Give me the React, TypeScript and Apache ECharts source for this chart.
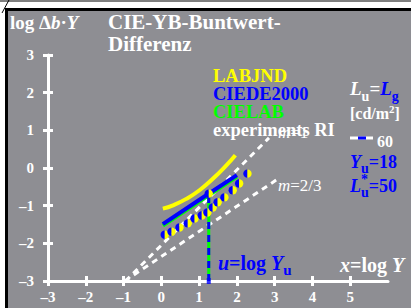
import React, { useEffect, useRef } from 'react';
import * as echarts from 'echarts';

// axis ticks
const xTicks = [-3, -2, -1, 0, 1, 2, 3, 4, 5];
const yTicks = [-3, -2, -1, 0, 1, 2, 3];

// LABJND (yellow)
const labjndX = [0.04, 0.31, 0.66, 1.01, 1.37, 1.72, 1.96];
const labjndY = [-1.08, -0.99, -0.82, -0.59, -0.28, 0.07, 0.34];
// CIEDE2000 (blue)
const de2000X = [0.04, 1.0, 2.0];
const de2000Y = [-1.49, -0.85, -0.19];
// CIELAB (green)
const cielabX = [0.04, 1.0, 2.0];
const cielabY = [-1.53, -0.89, -0.23];
// experiments RI
const expX = [0.09, 0.27, 0.48, 0.7, 0.88, 1.07, 1.22, 1.36, 1.49, 1.67, 1.89, 2.06, 2.28];
const expY = [-1.77, -1.69, -1.58, -1.47, -1.34, -1.26, -1.18, -1.05, -0.91, -0.78, -0.59, -0.41, -0.15];
// asymptotes
const m1X = [-0.95, 2.85];
const m1Y = [-3, 0.8];
const m23X = [-0.97, 3.1];
const m23Y = [-3, -0.28];
// u = log Yu
const uX = 1.255;
const uLineY = [-3, -0.68];

const SERIF = "'Liberation Serif', 'Times New Roman', serif";
const BLUE = '#0000ff';
const YELLOW = '#ffff00';
const GREEN = '#00ff00';
const WHITE = '#ffffff';
const GRAY = '#8e8e93';

const zip = (xs: number[], ys: number[]) => xs.map((x, i) => [x, ys[i]]);
const minus = (v: number) => (v < 0 ? '\u2013' + Math.abs(v) : String(v));

export default function App() {
  const ref = useRef<HTMLDivElement>(null);
  useEffect(() => {
    if (!ref.current) return;
    const chart = echarts.init(ref.current, undefined, { renderer: 'svg' });
    const big = (fill: string, italic = false, pb = 5, size = 19) => ({
      fill, fontFamily: SERIF, fontWeight: 'bold', fontStyle: italic ? 'italic' : 'normal',
      fontSize: size, verticalAlign: 'bottom', padding: [0, 0, pb, 0],
    });
    const sub = (fill: string, size = 14, pb = 0) => ({
      fill, fontFamily: SERIF, fontWeight: 'bold', fontSize: size, verticalAlign: 'bottom', padding: [0, 0, pb, 0],
    });
    const txt = (x: number, y: number, text: string, fill: string, size = 17, extra: any = {}) => ({
      type: 'text', x, y, z: 100,
      style: {
        text, fill, fontFamily: SERIF, fontWeight: 'bold', fontSize: size,
        textAlign: 'left', textVerticalAlign: 'middle', ...extra,
      },
    });
    const axisBase = {
      type: 'value',
      splitLine: { show: false },
    };
    const option: any = {
      animation: false,
      backgroundColor: GRAY,
      grid: { left: 48, right: 23, top: 55, bottom: 27, show: false },
      xAxis: [
        {
          ...axisBase, min: -3, max: 6, interval: 1,
          axisLine: { onZero: false, lineStyle: { color: WHITE, width: 3 } },
          axisTick: { customValues: xTicks, length: 5, lineStyle: { color: WHITE, width: 3 } },
          axisLabel: {
            customValues: xTicks, margin: 8, color: WHITE, fontFamily: SERIF, fontWeight: 'bold', fontSize: 15,
            formatter: (v: number) => minus(v),
          },
        },
        {
          ...axisBase, min: -3, max: 6, interval: 1, position: 'bottom',
          axisLine: { show: false, onZero: false },
          axisTick: { customValues: xTicks, inside: true, length: 5, lineStyle: { color: WHITE, width: 3 } },
          axisLabel: { show: false },
        },
      ],
      yAxis: [
        {
          ...axisBase, min: -3, max: 3, interval: 1,
          axisLine: { onZero: false, lineStyle: { color: WHITE, width: 3 } },
          axisTick: { customValues: yTicks, length: 5, lineStyle: { color: WHITE, width: 3 } },
          axisLabel: {
            customValues: yTicks, margin: 14, color: WHITE, fontFamily: SERIF, fontWeight: 'bold', fontSize: 15,
            formatter: (v: number) => minus(v),
          },
        },
        {
          ...axisBase, min: -3, max: 3, interval: 1, position: 'left',
          axisLine: { show: false, onZero: false },
          axisTick: { customValues: yTicks, inside: true, length: 5, lineStyle: { color: WHITE, width: 3 } },
          axisLabel: { show: false },
        },
      ],
      series: [
        {
          type: 'line', data: zip(m1X, m1Y), symbol: 'none',
          lineStyle: { color: WHITE, width: 3, type: [6, 5] }, z: 3,
        },
        {
          type: 'line', data: zip(m23X, m23Y), symbol: 'none',
          lineStyle: { color: WHITE, width: 3, type: [6, 5] }, z: 3,
        },
        {
          type: 'line', data: zip(labjndX, labjndY), symbol: 'none', smooth: true,
          lineStyle: { color: YELLOW, width: 4 }, z: 4,
        },
        {
          type: 'line', data: zip(cielabX, cielabY), symbol: 'none',
          lineStyle: { color: GREEN, width: 4 }, z: 4,
        },
        {
          type: 'line', data: zip(de2000X, de2000Y), symbol: 'none',
          lineStyle: { color: BLUE, width: 4 }, z: 5,
        },
        {
          type: 'line', data: uLineY.map((y) => [uX, y]), symbol: 'none',
          lineStyle: { color: GREEN, width: 3 }, z: 6,
        },
        {
          type: 'line', data: uLineY.map((y) => [uX, y]), symbol: 'none',
          lineStyle: { color: BLUE, width: 3, type: [7, 6] }, z: 7,
        },
        {
          type: 'scatter', data: [[uX, uLineY[0]]], symbol: 'rect', symbolSize: [4, 6],
          itemStyle: { color: BLUE }, z: 8,
        },
        {
          type: 'custom', z: 9,
          data: [...zip(expX, expY), [uX, uLineY[1]]],
          renderItem: (params: any, api: any) => {
            const p = api.coord([api.value(0), api.value(1)]);
            const r = 4.2;
            return {
              type: 'group',
              children: [
                { type: 'sector', shape: { cx: p[0], cy: p[1], r0: 0, r, startAngle: Math.PI / 2, endAngle: (3 * Math.PI) / 2 }, style: { fill: BLUE } },
                { type: 'sector', shape: { cx: p[0], cy: p[1], r0: 0, r, startAngle: -Math.PI / 2, endAngle: Math.PI / 2 }, style: { fill: YELLOW } },
              ],
            };
          },
        },
      ],
      graphic: [
        { type: 'rect', shape: { x: 0, y: 0, width: 411, height: 8 }, style: { fill: '#ffffff' }, z: 50 },
        { type: 'rect', shape: { x: 0, y: 0, width: 5, height: 308 }, style: { fill: '#ffffff' }, z: 50 },
        { type: 'rect', shape: { x: 5, y: 8, width: 406, height: 3 }, style: { fill: '#000000' }, z: 51 },
        { type: 'rect', shape: { x: 5, y: 8, width: 3, height: 300 }, style: { fill: '#000000' }, z: 51 },
        { type: 'line', shape: { x1: 0, y1: 1, x2: 411, y2: 1 }, style: { stroke: '#000000', lineWidth: 1 }, z: 51 },
        { type: 'line', shape: { x1: 9, y1: 0, x2: 2, y2: 13 }, style: { stroke: '#000000', lineWidth: 1 }, z: 51 },
        // title
        txt(10, 22, '{n|log \u0394}{i|b}{n|\u00b7}{i|Y}', WHITE, 19, {
          rich: {
            n: { fill: WHITE, fontFamily: SERIF, fontWeight: 'bold', fontSize: 19 },
            i: { fill: WHITE, fontFamily: SERIF, fontWeight: 'bold', fontStyle: 'italic', fontSize: 19 },
          },
        }),
        txt(108, 22, 'CIE-YB-Buntwert-', WHITE, 21),
        txt(108, 44, 'Differenz', WHITE, 21),
        // legend
        txt(213, 76, 'LABJND', YELLOW, 18.5),
        txt(213, 94, 'CIEDE2000', BLUE, 18.5),
        txt(213, 112, 'CIELAB', GREEN, 18.5),
        txt(213, 130, 'experiments RI', WHITE, 18.5),
        txt(278, 132, '{i|m}{n|=1}', WHITE, 17, {
          rich: {
            i: { fill: WHITE, fontFamily: SERIF, fontStyle: 'italic', fontSize: 17 },
            n: { fill: WHITE, fontFamily: SERIF, fontSize: 17 },
          },
        }),
        txt(278, 185, '{i|m}{n|=2/3}', WHITE, 17, {
          rich: {
            i: { fill: WHITE, fontFamily: SERIF, fontStyle: 'italic', fontSize: 17 },
            n: { fill: WHITE, fontFamily: SERIF, fontSize: 17 },
          },
        }),
        // right side
        txt(350, 91, '{a|L}{b|u}{c|=}{d|L}{e|g}', WHITE, 19, {
          rich: {
            a: big(WHITE, true), b: sub(WHITE), c: big(WHITE), d: big(BLUE, true), e: sub(BLUE),
          },
        }),
        txt(350, 112, '{a|[cd/m}{b|2}{a|]}', WHITE, 16, {
          rich: {
            a: big(WHITE, false, 0, 16), b: sub(WHITE, 11, 7),
          },
        }),
        { type: 'line', shape: { x1: 350, y1: 138, x2: 373, y2: 138 }, style: { stroke: WHITE, lineWidth: 3 }, z: 60 },
        { type: 'line', shape: { x1: 358, y1: 138, x2: 366, y2: 138 }, style: { stroke: BLUE, lineWidth: 3 }, z: 61 },
        txt(377, 141, '60', WHITE, 16),
        txt(350, 164, '{a|Y}{b|u}{c|=18}', BLUE, 18, {
          rich: { a: big(BLUE, true, 4, 18), b: sub(BLUE), c: big(BLUE, false, 4, 18) },
        }),
        txt(350, 188, '{a|L}{b|u}{c|=50}', BLUE, 18, {
          rich: { a: big(BLUE, true, 4, 18), b: sub(BLUE), c: big(BLUE, false, 4, 18) },
        }),
        txt(361, 179, '*', BLUE, 14),
        // bottom labels
        txt(218, 265, '{a|u}{c|=log }{a|Y}{b|u}', BLUE, 20, {
          rich: { a: big(BLUE, true, 4, 20), c: big(BLUE, false, 4, 20), b: sub(BLUE, 15) },
        }),
        txt(340, 265, '{a|x}{c|=log }{a|Y}', WHITE, 20, {
          rich: { a: big(WHITE, true, 0, 20), c: big(WHITE, false, 0, 20) },
        }),
      ],
    };
    chart.setOption(option);
    return () => chart.dispose();
  }, []);
  return <div ref={ref} style={{ position: 'absolute', left: 0, top: 0, width: 411, height: 308 }} />;
}
